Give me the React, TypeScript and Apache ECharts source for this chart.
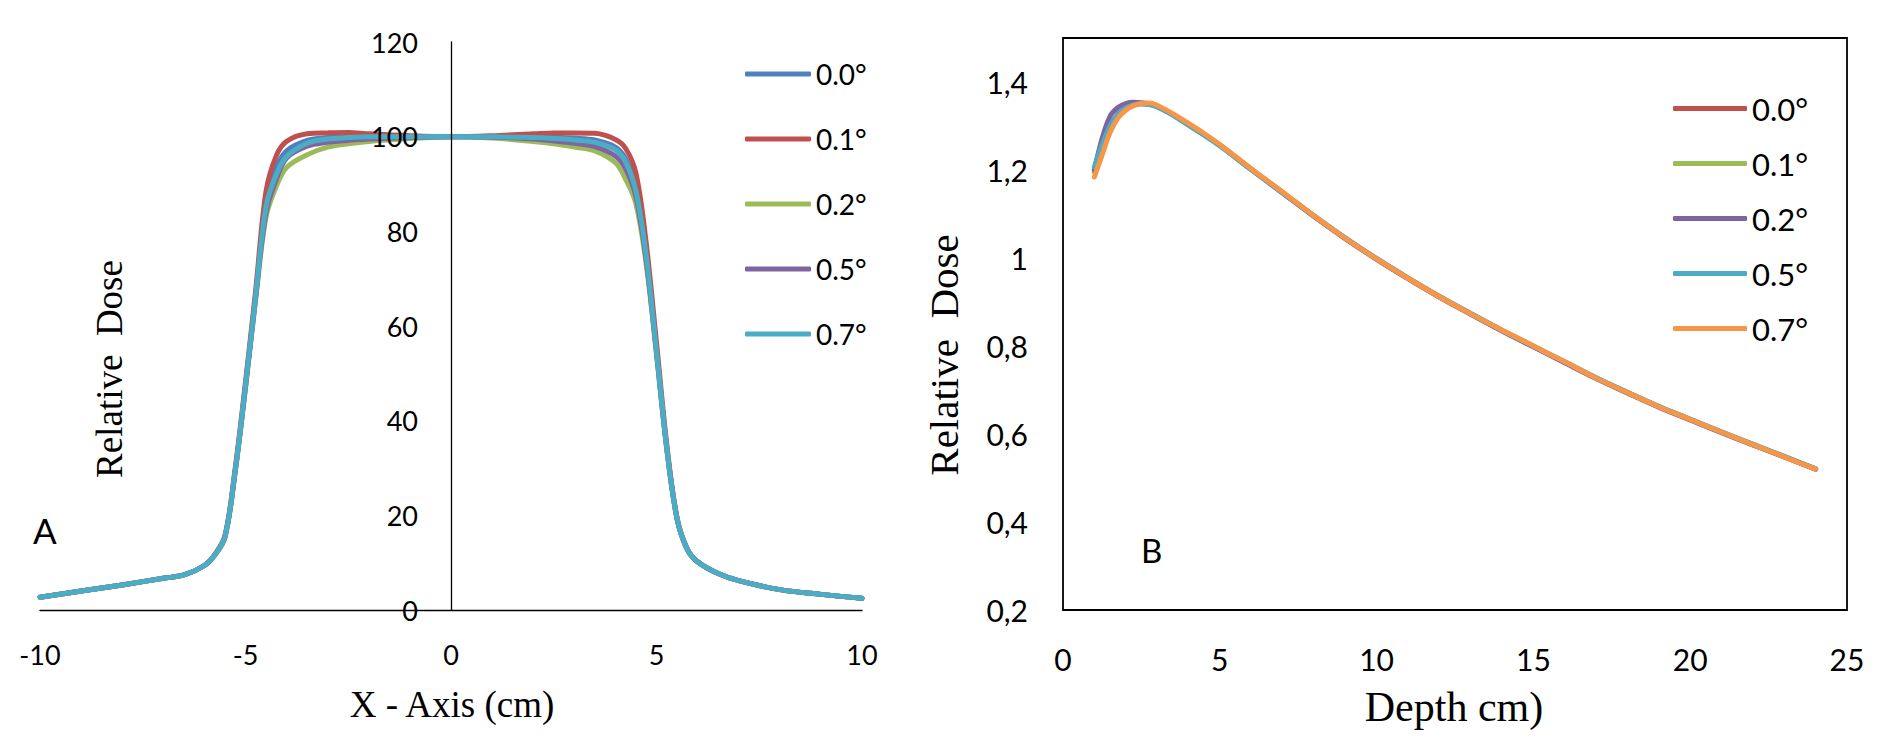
import React, { useEffect, useRef } from "react";
import * as echarts from "echarts";

// ---------- Panel A: lateral dose profile ----------
const profileX = [-10, -9, -8, -7, -6.5, -6, -5.75, -5.5, -5.25, -5, -4.75, -4.5, -4.25, -4, -3.5, -3, -2.5, -2, -1, 0, 1, 2, 2.5, 3, 3.5, 4, 4.25, 4.5, 4.75, 5, 5.25, 5.5, 5.75, 6, 6.5, 7, 8, 9, 10];
const profileLabels = ["0.0°", "0.1°", "0.2°", "0.5°", "0.7°"];
const profile00 = [2.7, 4.0, 5.3, 6.7, 7.4, 9.4, 11.6, 15.5, 29.5, 47.4, 66.8, 86.0, 93.5, 97.0, 99.2, 99.8, 100.0, 100.1, 100.0, 100, 100.0, 100.0, 99.9, 99.7, 99.3, 97.8, 95.3, 89.3, 75.3, 55.0, 34.3, 19.3, 12.8, 10.2, 7.7, 6.2, 4.3, 3.3, 2.5];
const profile01 = [2.7, 4.0, 5.3, 6.7, 7.4, 9.4, 11.7, 15.7, 30.0, 48.2, 67.8, 88.5, 96.0, 99.0, 100.6, 100.8, 100.9, 100.6, 100.2, 100, 100.2, 100.6, 100.8, 100.8, 100.7, 99.4, 97.5, 92.3, 77.5, 56.5, 35.0, 19.5, 12.9, 10.2, 7.7, 6.2, 4.3, 3.3, 2.5];
const profile02 = [2.7, 4.0, 5.3, 6.7, 7.4, 9.4, 11.5, 15.3, 29.2, 46.9, 65.8, 83.0, 89.5, 93.5, 96.2, 97.8, 98.5, 99.0, 99.6, 100, 99.7, 99.0, 98.5, 97.8, 97.0, 94.5, 91.0, 85.8, 73.0, 54.0, 34.0, 19.2, 12.7, 10.2, 7.7, 6.2, 4.3, 3.3, 2.5];
const profile05 = [2.7, 4.0, 5.3, 6.7, 7.4, 9.4, 11.6, 15.4, 29.3, 47.1, 66.2, 84.0, 91.0, 95.5, 98.0, 98.8, 99.2, 99.5, 99.8, 100, 99.9, 99.5, 99.1, 98.6, 97.9, 95.9, 93.2, 87.3, 73.8, 54.3, 34.1, 19.3, 12.8, 10.2, 7.7, 6.2, 4.3, 3.3, 2.5];
const profile07 = [2.7, 4.0, 5.3, 6.7, 7.4, 9.4, 11.6, 15.5, 29.5, 47.4, 66.6, 85.3, 92.0, 95.8, 98.6, 99.5, 99.8, 100, 100, 100, 100, 99.8, 99.6, 99.3, 98.8, 97.2, 94.6, 88.5, 74.9, 54.6, 34.2, 19.3, 12.8, 10.2, 7.7, 6.2, 4.3, 3.3, 2.5];
const profileSeries = [profile00, profile01, profile02, profile05, profile07];
const profileColors = ["#4F81BD", "#C0504D", "#9BBB59", "#8064A2", "#4BACC6"];
const profileYTicks = { min: 0, max: 120, interval: 20 };
const profileXTicks = { min: -10, max: 10, interval: 5 };

// ---------- Panel B: depth dose ----------
const depthX = [1, 1.25, 1.5, 1.75, 2, 2.25, 2.5, 2.75, 3, 3.5, 4, 4.5, 5, 6, 7, 8, 9, 10, 11, 12, 13, 14, 15, 16, 17, 18, 19, 20, 21, 22, 23, 24];
const depthLabels = ["0.0°", "0.1°", "0.2°", "0.5°", "0.7°"];
const depth00 = [1.200, 1.252, 1.298, 1.326, 1.341, 1.349, 1.351, 1.350, 1.345, 1.326, 1.304, 1.281, 1.257, 1.202, 1.149, 1.095, 1.045, 0.998, 0.954, 0.912, 0.873, 0.835, 0.799, 0.763, 0.727, 0.694, 0.662, 0.633, 0.604, 0.576, 0.548, 0.520];
const depth01 = [1.195, 1.248, 1.295, 1.324, 1.340, 1.348, 1.351, 1.350, 1.345, 1.326, 1.303, 1.280, 1.256, 1.202, 1.149, 1.096, 1.045, 0.998, 0.954, 0.912, 0.873, 0.835, 0.799, 0.763, 0.727, 0.694, 0.662, 0.633, 0.604, 0.576, 0.549, 0.521];
const depth02 = [1.200, 1.272, 1.322, 1.342, 1.351, 1.354, 1.353, 1.350, 1.344, 1.326, 1.303, 1.280, 1.256, 1.201, 1.148, 1.095, 1.044, 0.997, 0.953, 0.911, 0.872, 0.834, 0.798, 0.762, 0.726, 0.693, 0.661, 0.632, 0.603, 0.575, 0.548, 0.520];
const depth05 = [1.207, 1.258, 1.300, 1.327, 1.341, 1.348, 1.350, 1.349, 1.344, 1.325, 1.302, 1.279, 1.255, 1.201, 1.149, 1.096, 1.046, 0.999, 0.955, 0.913, 0.874, 0.836, 0.800, 0.764, 0.728, 0.695, 0.663, 0.634, 0.605, 0.577, 0.549, 0.521];
const depth07 = [1.184, 1.235, 1.285, 1.318, 1.336, 1.346, 1.351, 1.352, 1.347, 1.328, 1.306, 1.283, 1.258, 1.203, 1.150, 1.096, 1.045, 0.998, 0.954, 0.912, 0.873, 0.836, 0.800, 0.764, 0.727, 0.694, 0.662, 0.633, 0.604, 0.576, 0.548, 0.520];
const depthSeries = [depth00, depth01, depth02, depth05, depth07];
const depthColors = ["#C0504D", "#9BBB59", "#8064A2", "#4BACC6", "#F79646"];
const depthYTicks = { min: 0.2, max: 1.5, interval: 0.2 };
const depthXTicks = { min: 0, max: 25, interval: 5 };

const SANS = "Lato";
const SERIF = "'Liberation Serif', 'Times New Roman', serif";
const LINE_W = 5;

export default function App() {
  const ref = useRef<HTMLDivElement>(null);

  useEffect(() => {
    if (!ref.current) return;
    const chart = echarts.init(ref.current, null, { renderer: "svg" });

    const seriesA = profileSeries.map((vals, i) => ({
      name: "A " + profileLabels[i],
      type: "line",
      xAxisIndex: 0,
      yAxisIndex: 0,
      data: profileX.map((x, j) => [x, vals[j]]),
      symbol: "none",
      smooth: 0.35,
      lineStyle: { color: profileColors[i], width: LINE_W, cap: "round", join: "round" },
      itemStyle: { color: profileColors[i] },
      z: 2 + i,
    }));
    const seriesB = depthSeries.map((vals, i) => ({
      name: "B " + depthLabels[i],
      type: "line",
      xAxisIndex: 1,
      yAxisIndex: 1,
      data: depthX.map((x, j) => [x, vals[j]]),
      symbol: "none",
      smooth: 0.35,
      lineStyle: { color: depthColors[i], width: LINE_W, cap: "round", join: "round" },
      itemStyle: { color: depthColors[i] },
      z: 2 + i,
    }));

    const axisLine = { show: true, lineStyle: { color: "#000", width: 1.3 } };

    chart.setOption({
      animation: false,
      backgroundColor: "#fff",
      grid: [
        { left: 40, top: 42, width: 822, height: 568 },
        { left: 1063, top: 38, width: 784, height: 572, show: true, borderColor: "#000", borderWidth: 1.8, backgroundColor: "transparent" },
      ],
      xAxis: [
        {
          type: "value",
          gridIndex: 0,
          ...profileXTicks,
          axisLine: { ...axisLine, onZero: true },
          axisTick: { show: false },
          splitLine: { show: false },
          axisLabel: { margin: 31, fontSize: 27, fontFamily: SANS, color: "#000" },
        },
        {
          type: "value",
          gridIndex: 1,
          ...depthXTicks,
          axisLine: { show: false },
          axisTick: { show: false },
          splitLine: { show: false },
          axisLabel: { margin: 34, fontSize: 30, fontFamily: SANS, color: "#000" },
        },
      ],
      yAxis: [
        {
          type: "value",
          gridIndex: 0,
          ...profileYTicks,
          offset: -411,
          z: 10,
          axisLine: { ...axisLine, onZero: false },
          axisTick: { show: false },
          splitLine: { show: false },
          axisLabel: { margin: 33, fontSize: 27, fontFamily: SANS, color: "#000" },
        },
        {
          type: "value",
          gridIndex: 1,
          ...depthYTicks,
          axisLine: { show: false },
          axisTick: { show: false },
          splitLine: { show: false },
          axisLabel: {
            margin: 35,
            fontSize: 30,
            fontFamily: SANS,
            color: "#000",
            showMaxLabel: false,
            formatter: (v: number) => String(Number(v.toFixed(1))).replace(".", ","),
          },
        },
      ],
      legend: [
        {
          orient: "vertical",
          left: 740,
          top: 55,
          icon: "roundRect",
          itemWidth: 66,
          itemHeight: 5,
          itemGap: 37,
          data: profileLabels.map((l) => "A " + l),
          formatter: (n: string) => n.slice(2),
          textStyle: { fontFamily: SANS, fontSize: 28, color: "#000", lineHeight: 28 },
          selectedMode: false,
        },
        {
          orient: "vertical",
          left: 1668,
          top: 88,
          icon: "roundRect",
          itemWidth: 74,
          itemHeight: 5,
          itemGap: 24,
          data: depthLabels.map((l) => "B " + l),
          formatter: (n: string) => n.slice(2),
          textStyle: { fontFamily: SANS, fontSize: 31, color: "#000", lineHeight: 31 },
          selectedMode: false,
        },
      ],
      graphic: [
        {
          type: "text",
          x: 109,
          y: 369,
          rotation: Math.PI / 2,
          style: { text: "Relative  Dose", font: `37px ${SERIF}`, fill: "#000", textAlign: "center", textVerticalAlign: "middle" },
        },
        {
          type: "text",
          x: 452,
          y: 704,
          style: { text: "X - Axis (cm)", font: `37px ${SERIF}`, fill: "#000", textAlign: "center", textVerticalAlign: "middle" },
        },
        {
          type: "text",
          x: 944,
          y: 355,
          rotation: Math.PI / 2,
          style: { text: "Relative  Dose", font: `41px ${SERIF}`, fill: "#000", textAlign: "center", textVerticalAlign: "middle" },
        },
        {
          type: "text",
          x: 1454,
          y: 707,
          style: { text: "Depth cm)", font: `42px ${SERIF}`, fill: "#000", textAlign: "center", textVerticalAlign: "middle" },
        },
        {
          type: "text",
          x: 33,
          y: 530,
          style: { text: "A", font: `35px ${SANS}`, fill: "#000", textAlign: "left", textVerticalAlign: "middle" },
        },
        {
          type: "text",
          x: 1141,
          y: 550,
          style: { text: "B", font: `33px ${SANS}`, fill: "#000", textAlign: "left", textVerticalAlign: "middle" },
        },
      ],
      series: [...seriesA, ...seriesB],
    });

    return () => chart.dispose();
  }, []);

  return (
    <div
      ref={ref}
      style={{ position: "fixed", left: 0, top: 0, width: 1894, height: 747, background: "#fff" }}
    />
  );
}
